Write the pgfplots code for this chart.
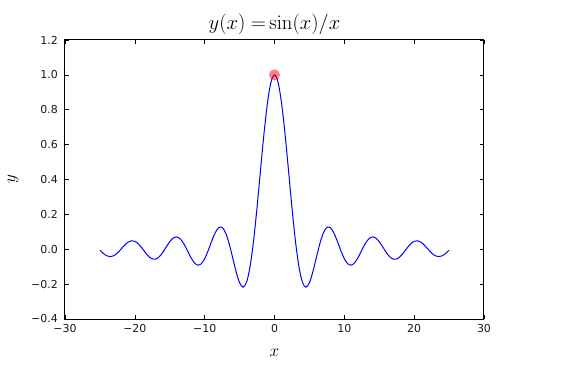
\documentclass[border=0pt]{standalone}
\usepackage[no-math]{fontspec}
\setmainfont{DejaVu Sans}
\usepackage{pgfplots}
\pgfplotsset{compat=1.18}
\usepackage{pgfplotstable}
\newcommand\tl{\fontsize{11}{13}\selectfont}
\pgfplotstableread{
x y
-25.0 -0.005294
-24.5 -0.024161
-24.0 -0.037732
-23.5 -0.042497
-23.0 -0.036792
-22.5 -0.021652
-22.0 -0.000402
-21.5 0.021757
-21.0 0.039841
-20.5 0.048655
-20.0 0.045647
-19.5 0.031053
-19.0 0.007888
-18.5 -0.018288
-18.0 -0.041722
-17.5 -0.055805
-17.0 -0.056553
-16.5 -0.043171
-16.0 -0.017994
-15.5 0.013320
-15.0 0.043353
-14.5 0.064476
-14.0 0.070758
-13.5 0.059540
-13.0 0.032321
-12.5 -0.005306
-12.0 -0.044714
-11.5 -0.076146
-11.0 -0.090908
-10.5 -0.083781
-10.0 -0.054402
-9.5 -0.007911
-9.0 0.045791
-8.5 0.093940
-8.0 0.123670
-7.5 0.125067
-7.0 0.093855
-6.5 0.033095
-6.0 -0.046569
-5.5 -0.128280
-5.0 -0.191785
-4.5 -0.217229
-4.0 -0.189201
-3.5 -0.100224
-3.0 0.047040
-2.5 0.239389
-2.0 0.454649
-1.5 0.664997
-1.0 0.841471
-0.5 0.958851
0.0 1.000000
0.5 0.958851
1.0 0.841471
1.5 0.664997
2.0 0.454649
2.5 0.239389
3.0 0.047040
3.5 -0.100224
4.0 -0.189201
4.5 -0.217229
5.0 -0.191785
5.5 -0.128280
6.0 -0.046569
6.5 0.033095
7.0 0.093855
7.5 0.125067
8.0 0.123670
8.5 0.093940
9.0 0.045791
9.5 -0.007911
10.0 -0.054402
10.5 -0.083781
11.0 -0.090908
11.5 -0.076146
12.0 -0.044714
12.5 -0.005306
13.0 0.032321
13.5 0.059540
14.0 0.070758
14.5 0.064476
15.0 0.043353
15.5 0.013320
16.0 -0.017994
16.5 -0.043171
17.0 -0.056553
17.5 -0.055805
18.0 -0.041722
18.5 -0.018288
19.0 0.007888
19.5 0.031053
20.0 0.045647
20.5 0.048655
21.0 0.039841
21.5 0.021757
22.0 -0.000402
22.5 -0.021652
23.0 -0.036792
23.5 -0.042497
24.0 -0.037732
24.5 -0.024161
25.0 -0.005294
}\sincdata
\begin{document}
\begin{tikzpicture}
\path[use as bounding box] (-65bp,-50bp) rectangle (518bp,319bp);
\begin{axis}[
  at={(0,0)}, anchor=south west,
  scale only axis,
  width=419bp, height=279bp,
  xmin=-30, xmax=30, ymin=-0.4, ymax=1.2,
  xtick={-30,-20,...,30},
  xticklabels={{\tl −30},{\tl −20},{\tl −10},{\tl 0},{\tl 10},{\tl 20},{\tl 30}},
  ytick={-0.4,-0.2,0,0.2,0.4,0.6,0.8,1.0,1.2},
  yticklabels={{\tl −0.4},{\tl −0.2},{\tl 0.0},{\tl 0.2},{\tl 0.4},{\tl 0.6},{\tl 0.8},{\tl 1.0},{\tl 1.2}},
  tick align=inside, tick pos=both,
  major tick length=4bp,
  every tick/.style={black, line width=0.6bp},
  axis line style={black, line width=1bp},
  tick label style={inner sep=0pt, text=black!90},
  xticklabel style={anchor=north, yshift=-5bp},
  yticklabel style={anchor=east, xshift=-7bp},
  title={\fontsize{21}{25}\selectfont$y(x)\;{=}\sin(x)/x$},
  title style={at={(0.5,1)}, anchor=base, yshift=5bp, inner sep=0pt},
  xlabel={\fontsize{17}{20}\selectfont$x$},
  ylabel={\fontsize{17}{20}\selectfont$y$},
  xlabel style={at={(axis description cs:0.5,0)}, anchor=center, yshift=-34bp, inner sep=0pt},
  ylabel style={at={(axis description cs:0,0.5)}, anchor=center, yshift=52bp, inner sep=0pt},
]
\addplot[blue, line width=1bp, smooth] table[x=x, y=y] {\sincdata};
\addplot[only marks, red, mark=*, mark size=5.5bp, mark options={draw opacity=0, fill=red, fill opacity=0.5}] coordinates {(0,1)};
\end{axis}
\end{tikzpicture}
\end{document}
